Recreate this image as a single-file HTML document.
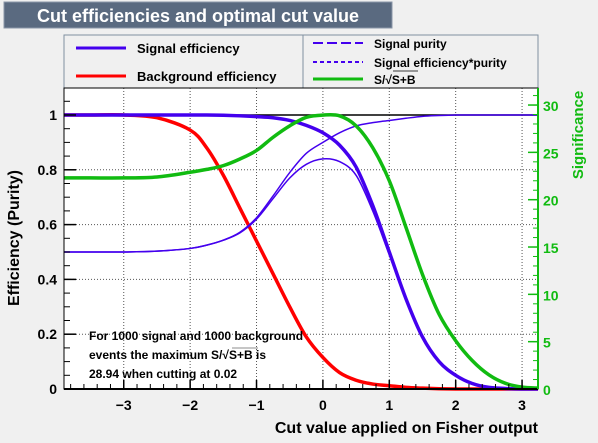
<!DOCTYPE html>
<html><head><meta charset="utf-8"><style>
body{margin:0;background:#f0f0f0;}
svg{display:block;font-family:"Liberation Sans",Arial,sans-serif;font-weight:bold;}
</style></head><body>
<svg id="c" width="598" height="443" viewBox="0 0 598 443">
<rect x="0" y="0" width="598" height="443" fill="#f0f0f0"/>
<rect x="4" y="2" width="388" height="26" fill="#5a6a80" stroke="#8a96a8"/>
<text x="198" y="22" fill="#fff" font-size="18" text-anchor="middle">Cut efficiencies and optimal cut value</text>
<g>
<rect x="64" y="35" width="474" height="53" fill="#f0f0f0" stroke="#8090a0"/>
<line x1="303" y1="35" x2="303" y2="88" stroke="#8090a0"/>
<g><line x1="76" y1="48" x2="126" y2="48" stroke="#4400ee" stroke-width="3"/><text x="137" y="53" font-size="13">Signal efficiency</text></g>
<g><line x1="76" y1="76" x2="126" y2="76" stroke="#ff0000" stroke-width="3"/><text x="137" y="81" font-size="13">Background efficiency</text></g>
<g><line x1="313" y1="43" x2="363" y2="43" stroke="#4400ee" stroke-width="2" stroke-dasharray="10,4"/><text x="374" y="48" font-size="12">Signal purity</text></g>
<g><line x1="313" y1="62" x2="363" y2="62" stroke="#4400ee" stroke-width="2" stroke-dasharray="4,3"/><text x="374" y="67" font-size="12">Signal efficiency*purity</text></g>
<g><line x1="313" y1="79" x2="363" y2="79" stroke="#11bb11" stroke-width="3"/><text x="374" y="84" font-size="12">S/√S+B</text><line x1="393" y1="71" x2="418" y2="71" stroke="#000" stroke-width="0.8"/></g>
</g>
<rect x="64" y="88" width="474" height="301" fill="#fff"/>
<g id="grid"></g>
<g id="series"></g>
<g id="axes"></g>
<text x="0" y="0" transform="translate(19,238) rotate(-90)" font-size="16" text-anchor="middle">Efficiency (Purity)</text>
<text x="0" y="0" transform="translate(583,135) rotate(-90)" font-size="15" text-anchor="middle" fill="#11bb11">Significance</text>
<text x="538" y="433" font-size="16" text-anchor="end">Cut value applied on Fisher output</text>
<g font-size="12">
<text x="89" y="340">For 1000 signal and 1000 background</text>
<text x="89" y="359">events the maximum S/√S+B is</text>
<line x1="232" y1="348" x2="258" y2="348" stroke="#666" stroke-width="0.8"/>
<text x="89" y="378">28.94 when cutting at  0.02</text>
</g>
</svg>
<script>
const cuts=[-3.9,-3.5,-3,-2.5,-2,-1.75,-1.5,-1.25,-1,-0.75,-0.5,-0.25,0,0.25,0.5,0.75,1,1.25,1.5,1.75,2,2.25,2.5,2.75,3,3.24];
const sigEff=[1,1,1,1,1,1,0.999,0.997,0.994,0.99,0.98,0.962,0.935,0.89,0.81,0.67,0.5,0.33,0.19,0.1,0.05,0.02,0.006,0.002,0,0];
const bkgEff=[1,1,1,0.99,0.945,0.88,0.78,0.66,0.54,0.42,0.3,0.19,0.115,0.06,0.032,0.018,0.012,0.006,0.003,0.001,0,0,0,0,0,0];
const purity=[0.5,0.5,0.5,0.503,0.513,0.525,0.543,0.572,0.625,0.705,0.79,0.86,0.9,0.935,0.96,0.972,0.98,0.988,0.995,0.998,1,1,1,1,1,1];
const effPurity=[0.5,0.5,0.5,0.503,0.513,0.525,0.543,0.57,0.62,0.695,0.77,0.82,0.84,0.83,0.78,0.65,0.49,0.33,0.19,0.1,0.05,0.02,0.006,0.002,0,0];
const significance=[22.3,22.3,22.3,22.4,22.9,23.2,23.6,24.3,25.2,26.6,27.8,28.7,28.94,28.86,27.8,25.5,22.0,17.1,12.1,7.9,5.1,3.0,1.5,0.6,0.2,0.1];
const xTicks=[-3,-2,-1,0,1,2,3];
const xTickLabels=["\u22123","\u22122","\u22121","0","1","2","3"];
const yTicks=[0,0.2,0.4,0.6,0.8,1];
const yTickLabels=["0","0.2","0.4","0.6","0.8","1"];
const y2Ticks=[0,5,10,15,20,25,30];
const y2TickLabels=["0","5","10","15","20","25","30"];

const X0=64,X1=538,Y0=389,Y1=88,xmin=-3.9,xmax=3.24,ymax=1.0985,y2max=31.8;
const sx=v=>X0+(v-xmin)/(xmax-xmin)*(X1-X0);
const sy=v=>Y0-v/ymax*(Y0-Y1);
const sy2=v=>Y0-v/y2max*(Y0-Y1);
const NS="http://www.w3.org/2000/svg";
function mk(parent,tag,attrs){const e=document.createElementNS(NS,tag);for(const k in attrs)e.setAttribute(k,attrs[k]);parent.appendChild(e);return e;}
const grid=document.getElementById('grid'),series=document.getElementById('series'),axes=document.getElementById('axes');

xTicks.forEach((t,i)=>{
 const g=mk(grid,'line',{x1:sx(t),x2:sx(t),y1:Y1,y2:Y0,stroke:'#555','stroke-dasharray':'1,2','stroke-width':1});
 
 
 const tk=mk(axes,'line',{x1:sx(t),x2:sx(t),y1:Y0,y2:Y0-9,stroke:'#000','stroke-width':1.5});
 
 
 const l=mk(axes,'text',{x:sx(t),y:410,'font-size':14,'text-anchor':'middle'});l.textContent=xTickLabels[i];
 
 
});
for(let v=-3.8;v<=3.2;v+=0.2){const m=mk(axes,'line',{x1:sx(v),x2:sx(v),y1:Y0,y2:Y0-5,stroke:'#000'});
 
 }
yTicks.forEach((t,i)=>{
 if(t>0&&t<1){const g=mk(grid,'line',{x1:X0,x2:X1,y1:sy(t),y2:sy(t),stroke:'#555','stroke-dasharray':'1,2'});
 
 }
 const tk=mk(axes,'line',{x1:X0,x2:X0+12,y1:sy(t),y2:sy(t),stroke:'#000','stroke-width':1.5});
 
 
 const l=mk(axes,'text',{x:57,y:sy(t)+5,'font-size':14,'text-anchor':'end'});l.textContent=yTickLabels[i];
 
 
});
for(let v=0.05;v<1.09;v+=0.05){const m=mk(axes,'line',{x1:X0,x2:X0+6,y1:sy(v),y2:sy(v),stroke:'#000'});
 
 }
y2Ticks.forEach((t,i)=>{
 const tk=mk(axes,'line',{x1:X1-10,x2:X1,y1:sy2(t),y2:sy2(t),stroke:'#11bb11','stroke-width':1.5});
 
 
 const l=mk(axes,'text',{x:543,y:sy2(t)+6,'font-size':14,fill:'#11bb11'});l.textContent=y2TickLabels[i];
 
 
});
for(let v=1;v<31.5;v++){const m=mk(axes,'line',{x1:X1-5,x2:X1,y1:sy2(v),y2:sy2(v),stroke:'#11bb11'});
 
 }
const one=mk(series,'line',{x1:X0,x2:X1,y1:sy(1),y2:sy(1),stroke:'#000','stroke-width':1.5});



function curve(vals,scale,color,w,name){
 const p=cuts.map((c,i)=>[sx(c),scale(vals[i])]);
 let d='M'+p[0][0]+','+p[0][1];
 for(let i=0;i<p.length-1;i++){
  const a=p[Math.max(0,i-1)],b=p[i],c=p[i+1],e=p[Math.min(p.length-1,i+2)];
  const c1=[b[0]+(c[0]-a[0])/6,b[1]+(c[1]-a[1])/6],c2=[c[0]-(e[0]-b[0])/6,c[1]-(e[1]-b[1])/6];
  d+=` C${c1[0]},${c1[1]} ${c2[0]},${c2[1]} ${c[0]},${c[1]}`;
 }
 const el=mk(series,'path',{d:d,fill:'none',stroke:color,'stroke-width':w});
 
 
}
curve(bkgEff,sy,'#ff0000',3.5,'background-efficiency-line');
curve(purity,sy,'#4400ee',1.5,'signal-purity-line');
curve(effPurity,sy,'#4400ee',1.5,'efficiency-purity-line');
curve(sigEff,sy,'#4400ee',3.5,'signal-efficiency-line');
curve(significance,sy2,'#11bb11',3.5,'significance-line');

const fr=mk(axes,'rect',{x:X0,y:Y1,width:X1-X0,height:Y0-Y1,fill:'none',stroke:'#000','stroke-width':1});


const xa=mk(axes,'line',{x1:X0,x2:X1,y1:Y0,y2:Y0,stroke:'#000','stroke-width':2});


const ya=mk(axes,'line',{x1:X1,x2:X1,y1:Y1,y2:Y0,stroke:'#11bb11','stroke-width':2});


</script>
</body></html>
